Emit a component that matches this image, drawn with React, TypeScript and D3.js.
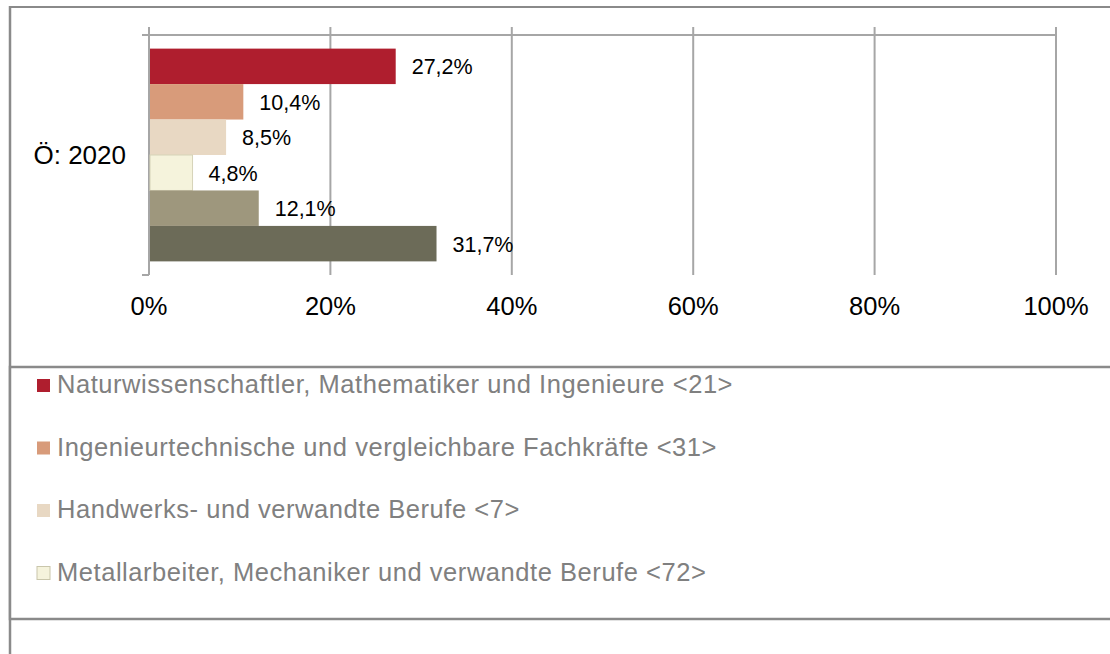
import React, { useEffect, useRef } from "react";
import * as d3 from "d3";

const categories = ["Ö: 2020"];
const seriesKeys = ["s21", "s31", "s7", "s72", "s5", "s6"];
const seriesValues = [0.272, 0.104, 0.085, 0.048, 0.121, 0.317];
const seriesColors = ["#AF1E2E", "#D89B7A", "#E8D8C3", "#F5F3DC", "#9E977D", "#6C6B58"];
const legendLabels = [
  "Naturwissenschaftler, Mathematiker und Ingenieure <21>",
  "Ingenieurtechnische und vergleichbare Fachkräfte <31>",
  "Handwerks- und verwandte Berufe <7>",
  "Metallarbeiter, Mechaniker und verwandte Berufe <72>",
];
const xTicks = [0, 0.2, 0.4, 0.6, 0.8, 1];

const W = 1110;
const H = 654;
const font = "Arial, 'Liberation Sans', sans-serif";
const gridColor = "#a6a6a6";
const frameColor = "#8a8a8a";

const App = () => {
  const ref = useRef<HTMLDivElement>(null);

  useEffect(() => {
    const root = d3.select(ref.current);
    root.selectAll("*").remove();
    const svg = root
      .append("svg")
      .attr("width", W)
      .attr("height", H)
      .style("position", "absolute")
      .style("left", "0px")
      .style("top", "0px")
      .style("font-family", font);

    svg.append("rect").attr("width", W).attr("height", H).attr("fill", "white");

    // outer frame (only top and left edges are in view)
    svg.append("line").attr("x1", 10).attr("x2", W).attr("y1", 7).attr("y2", 7)
      .attr("stroke", frameColor).attr("stroke-width", 2);
    svg.append("line").attr("x1", 10).attr("x2", 10).attr("y1", 6).attr("y2", H)
      .attr("stroke", frameColor).attr("stroke-width", 2.5);

    const x = d3.scaleLinear().domain([0, 1]).range([149, 1056]);
    const y = d3.scaleBand().domain(categories).range([35, 275]).paddingOuter(0.064).paddingInner(0);
    const ySeries = d3.scaleBand().domain(seriesKeys).range([0, y.bandwidth()]).padding(0);

    // gridlines
    svg.append("g")
      .selectAll("line")
      .data(xTicks)
      .join("line")
      .attr("x1", (d) => x(d))
      .attr("x2", (d) => x(d))
      .attr("y1", 27)
      .attr("y2", 275)
      .attr("stroke", gridColor)
      .attr("stroke-width", 2);

    // top axis line and category ticks
    svg.append("line").attr("x1", 142).attr("x2", x(1)).attr("y1", 35).attr("y2", 35)
      .attr("stroke", gridColor).attr("stroke-width", 2);
    svg.append("line").attr("x1", 142).attr("x2", x(0)).attr("y1", 275).attr("y2", 275)
      .attr("stroke", gridColor).attr("stroke-width", 2);

    // bars
    const cat = categories[0];
    const bars = seriesKeys.map((k, i) => ({ key: k, value: seriesValues[i], color: seriesColors[i] }));
    svg.append("g")
      .selectAll("rect")
      .data(bars)
      .join("rect")
      .attr("x", x(0) + 1)
      .attr("y", (d) => (y(cat) as number) + (ySeries(d.key) as number))
      .attr("width", (d) => x(d.value) - x(0) - 1)
      .attr("height", ySeries.bandwidth())
      .attr("fill", (d) => d.color)
      .attr("stroke", (d, i) => (i === 3 ? "#d6d3b8" : "none"))
      .attr("stroke-width", 1);

    // value labels
    svg.append("g")
      .selectAll("text")
      .data(bars)
      .join("text")
      .attr("x", (d) => x(d.value) + 16)
      .attr("y", (d) => (y(cat) as number) + (ySeries(d.key) as number) + ySeries.bandwidth() / 2 + 8)
      .attr("font-size", 21.5)
      .attr("fill", "#000")
      .text((d) => (d.value * 100).toFixed(1).replace(".", ",") + "%");

    // category label
    svg.append("text")
      .attr("x", 126)
      .attr("y", (y(cat) as number) + y.bandwidth() / 2 + 9)
      .attr("text-anchor", "end")
      .attr("font-size", 26)
      .attr("fill", "#000")
      .text(cat);

    // x tick labels
    svg.append("g")
      .selectAll("text")
      .data(xTicks)
      .join("text")
      .attr("x", (d) => x(d))
      .attr("y", 315)
      .attr("text-anchor", "middle")
      .attr("font-size", 25.5)
      .attr("fill", "#000")
      .text((d) => d3.format(".0%")(d));

    // legend box (runs past the right and bottom-right of the view)
    svg.append("rect")
      .attr("x", 10)
      .attr("y", 367)
      .attr("width", W + 10)
      .attr("height", 252)
      .attr("fill", "white")
      .attr("stroke", frameColor)
      .attr("stroke-width", 2.5);

    const legend = svg.append("g")
      .selectAll("g")
      .data(legendLabels)
      .join("g")
      .attr("transform", (d, i) => `translate(37,${379 + i * 62.5})`);
    legend.append("rect")
      .attr("width", 13)
      .attr("height", 13)
      .attr("fill", (d, i) => seriesColors[i])
      .attr("stroke", (d, i) => (i === 3 ? "#c9c6ab" : "none"))
      .attr("stroke-width", 1);
    legend.append("text")
      .attr("x", 20)
      .attr("y", 14)
      .attr("font-size", 25.5)
      .attr("letter-spacing", 0.55)
      .attr("fill", "#808080")
      .text((d) => d);
  }, []);

  return <div ref={ref} />;
};

export default App;
